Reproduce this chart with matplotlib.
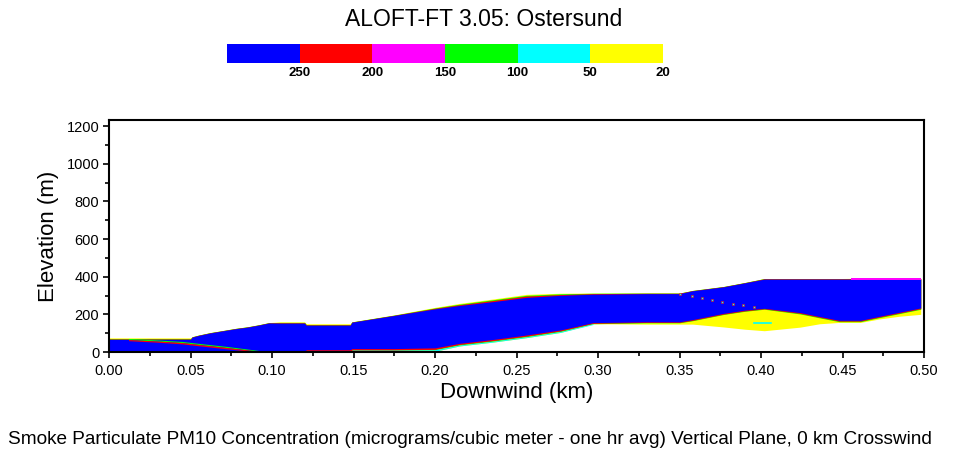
import matplotlib
matplotlib.use('Agg')
import matplotlib.pyplot as plt

plt.rcParams['font.family'] = ['Liberation Sans', 'DejaVu Sans']

# Escala de concentracao (legenda)
legenda_cores = ['#0000FF', '#FF0000', '#FF00FF', '#00FF00', '#00FFFF', '#FFFF00']
legenda_rotulos = ['250', '200', '150', '100', '50', '20']

# Distancia a favor do vento (km)
x_km = [0.000, 0.010, 0.050, 0.051, 0.055, 0.062, 0.069, 0.078, 0.085, 0.092,
        0.098, 0.105, 0.120, 0.121, 0.148, 0.149, 0.175, 0.200, 0.215, 0.236,
        0.256, 0.277, 0.297, 0.330, 0.350, 0.358, 0.377, 0.390, 0.402, 0.424,
        0.436, 0.448, 0.461, 0.473, 0.485, 0.498]

# Contornos da pluma (m): topo e base de cada faixa
amarelo_topo = [75, 75, 75, 81, 90, 103, 113, 126, 134, 145,
                156, 160, 160, 150, 150, 160, 197, 237, 258, 282,
                306, 312, 313, 313, 313, 327, 348, 369, 390, 390,
                390, 390, 392, 392, 392, 392]
amarelo_base = [0, 0, 0, 0, 0, 0, 0, 0, 0, 0,
                0, 0, 0, 0, 0, 0, 0, 4, 32, 53,
                76, 104, 150, 148, 148, 148, 133, 121, 113, 132,
                150, 157, 157, 176, 190, 200]
verde_topo = [71, 71, 71, 81, 90, 103, 113, 126, 134, 145,
              156, 157, 157, 146, 146, 160, 196, 234, 254, 278,
              301, 309, 312, 313, 313, 327, 348, 369, 390, 390,
              390, 390, 390, 390, 390, 390]
verde_base = [0, 0, 0, 0, 0, 0, 0, 0, 0, 0,
              0, 0, 0, 0, 0, 10, 10, 12, 37, 58,
              81, 109, 150, 155, 155, 166, 199, 216, 227, 202,
              181, 161, 161, 183, 204, 227]
vermelho_topo = [69, 69, 69, 80, 89, 102, 112, 125, 133, 144,
                 155, 155, 155, 144, 144, 159, 195, 232, 251, 274,
                 297, 305, 310, 312, 312, 326, 347, 368, 389, 389,
                 389, 389, 389, 389, 389, 389]
vermelho_base = [0, 0, 0, 0, 0, 0, 0, 0, 0, 0,
                 0, 0, 0, 0, 0, 10, 10, 14, 40, 61,
                 84, 112, 152, 157, 157, 168, 201, 218, 229, 205,
                 184, 164, 164, 186, 207, 230]
azul_topo = [67, 67, 67, 79, 88, 101, 111, 124, 132, 143,
             154, 153, 153, 142, 142, 158, 194, 229, 247, 268,
             290, 301, 307, 310, 310, 325, 346, 367, 387, 387,
             387, 387, 387, 387, 387, 387]
azul_base = [0, 0, 0, 0, 0, 0, 0, 0, 0, 0,
             0, 0, 0, 12, 12, 18, 18, 22, 46, 67,
             90, 117, 156, 160, 160, 172, 205, 222, 232, 209,
             188, 168, 168, 190, 211, 234]

# Faixa ciano junto ao solo / borda inferior
ciano_x = [0.149, 0.175, 0.200, 0.215, 0.236, 0.256, 0.277, 0.297]
ciano_base = [0, 0, 4, 32, 53, 76, 104, 146]
ciano_topo = [10, 10, 12, 37, 58, 81, 109, 150]

# Borda magenta no topo (final)
magenta_x = [0.455, 0.498]
magenta_base = [385, 385]
magenta_topo = [391, 391]

# Faixa diagonal interna perto da fonte
faixa_x = [0.012, 0.030, 0.045, 0.055, 0.072, 0.092]
faixa_topo = [72, 64, 56, 46, 30, 8]
faixa_meio = [66, 58, 50, 40, 24, 4]
faixa_base = [60, 52, 43, 33, 17, 0]

# Pontos isolados na diagonal
pontos_x = [0.350, 0.3575, 0.3636, 0.3697, 0.376, 0.383, 0.389, 0.396]
pontos_y = [308, 297, 287, 276, 265, 257, 248, 237]

# Traco ciano dentro da regiao amarela
traco_x = [0.396, 0.406]
traco_y = [156, 156]

fig = plt.figure(figsize=(9.64, 4.5), dpi=100)
ax = fig.add_axes([109 / 964, 1 - 352 / 450, 815 / 964, 232 / 450])

ax.fill_between(x_km, amarelo_base, amarelo_topo, color='#FFFF00', linewidth=0)
ax.fill_between(x_km, verde_base, verde_topo, color='#00FF00', linewidth=0)
ax.fill_between(x_km, vermelho_base, vermelho_topo, color='#FF0000', linewidth=0)
ax.fill_between(x_km, azul_base, azul_topo, color='#0000FF', linewidth=0)
ax.fill_between(ciano_x, ciano_base, ciano_topo, color='#00FFFF', linewidth=0)
ax.fill_between(magenta_x, magenta_base, magenta_topo, color='#FF00FF', linewidth=0)
ax.fill_between(faixa_x, faixa_meio, faixa_topo, color='#00FF00', linewidth=0)
ax.fill_between(faixa_x, faixa_base, faixa_meio, color='#FF0000', linewidth=0)
ax.scatter(pontos_x, pontos_y, marker='s', s=2.5, c='#00FFFF', edgecolors='#FF0000', linewidths=0.4, zorder=3)
ax.plot(traco_x, traco_y, color='#00FFFF', linewidth=1.2)

ax.set_xlim(0, 0.5)
ax.set_ylim(0, 1232)
ax.set_xticks([0.0, 0.05, 0.10, 0.15, 0.20, 0.25, 0.30, 0.35, 0.40, 0.45, 0.50])
ax.set_xticks([0.025 + 0.05 * i for i in range(10)], minor=True)
ax.set_yticks(range(0, 1201, 200))
ax.set_yticks(range(100, 1201, 200), minor=True)
ax.xaxis.set_major_formatter(matplotlib.ticker.FormatStrFormatter('%.2f'))
ax.tick_params(which='major', length=4.5, width=1.2, labelsize=10.5, direction='out')
ax.tick_params(which='minor', length=3, width=1.2, direction='out')
ax.tick_params(axis='x', pad=4)
ax.tick_params(axis='y', pad=2.5)
for s in ax.spines.values():
    s.set_linewidth(1.5)

ax.set_xlabel('Downwind (km)', fontsize=16, labelpad=3)
ax.set_ylabel('Elevation (m)', fontsize=16, labelpad=5)

fig.text(0.5016, 1 - 20 / 450, 'ALOFT-FT 3.05: Ostersund', fontsize=16.5, ha='center', va='center')

# barra de cores
cax = fig.add_axes([227 / 964, 1 - 62.5 / 450, 436 / 964, 18 / 450])
cax.bar(range(len(legenda_cores)), 1, width=1, align='edge', color=legenda_cores, linewidth=0)
cax.set_xlim(0, len(legenda_cores))
cax.set_ylim(0, 1)
cax.axis('off')
for i, rot in enumerate(legenda_rotulos):
    fig.text((227 + 436 * (i + 1) / 6) / 964, 1 - 72.5 / 450, rot,
             fontsize=9.5, fontweight='bold', ha='center', va='center')

fig.text(8 / 964, 1 - 440 / 450,
         'Smoke Particulate PM10 Concentration (micrograms/cubic meter - one hr avg) Vertical Plane, 0 km Crosswind',
         fontsize=13.7, ha='left', va='center')

plt.savefig('out.png', dpi=100)
plt.close()
